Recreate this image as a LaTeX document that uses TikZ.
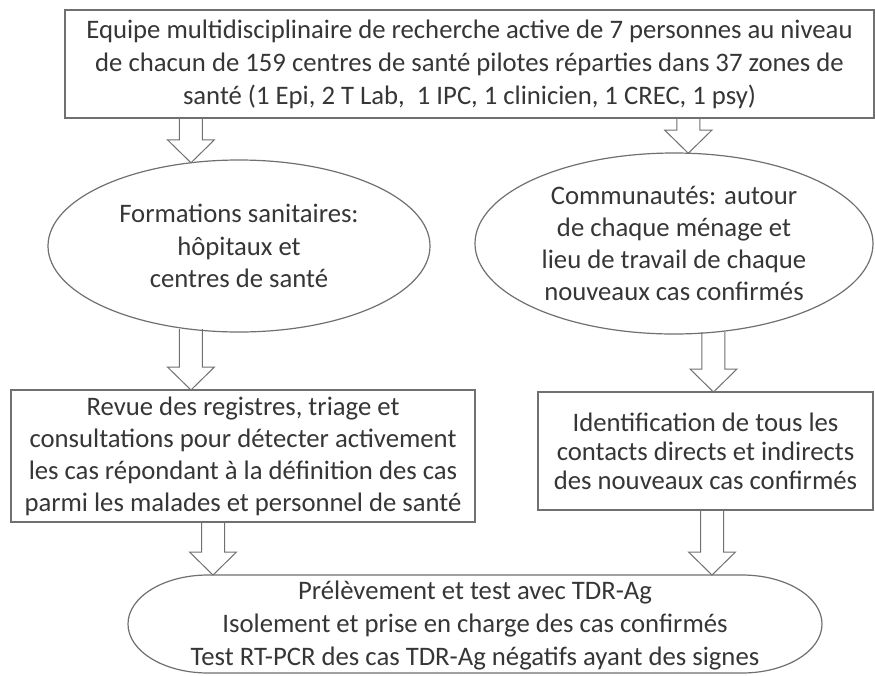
\documentclass[tikz,border=0pt]{standalone}
\usepackage{fontspec}
\setmainfont{Carlito}
\usetikzlibrary{shapes.geometric,calc}
\definecolor{txt}{HTML}{363636}
\definecolor{ln}{HTML}{707070}
\newcommand\blockarrow[2]{%
  \draw[barrow] let \p1=#1, \p2=#2 in
    (\x1-11.5pt,\y1) -- (\x1-11.5pt,\y2+23pt) -- (\x1-23.5pt,\y2+23pt) --
    (\x1,\y2) -- (\x1+23.5pt,\y2+23pt) -- (\x1+11.5pt,\y2+23pt) -- (\x1+11.5pt,\y1);}
\begin{document}
\begin{tikzpicture}[x=1pt,y=-1pt,
  every node/.style={text=txt, align=center, inner sep=0pt, outer sep=0pt},
  fsize/.style={font=\fontsize{26.7}{#1}\selectfont},
  boxnode/.style={draw=ln, line width=1.3pt, rectangle},
  ellnode/.style={draw=ln, line width=1.2pt, ellipse},
  ellline/.style={draw=ln, line width=1.2pt},
  barrow/.style={draw=ln, line width=1pt, line join=miter}]
\useasboundingbox (0,0) rectangle (875,675);
\fill[white] (0,0) rectangle (875,675);

\node[boxnode, fsize=33, minimum width=809pt, minimum height=108pt] (top) at (469.5,64)
  {Equipe multidisciplinaire de recherche active de 7 personnes au niveau\\
   de chacun de 159 centres de santé pilotes réparties dans 37 zones de\\
   santé (1 Epi, 2 T Lab,\ \ 1 IPC, 1 clinicien, 1 CREC, 1 psy)};

\node[ellnode, fsize=32.5, minimum width=382pt, minimum height=172pt] (ell1) at (239,246)
  {Formations sanitaires:\\hôpitaux et\\centres de santé};

\node[ellnode, fsize=32, minimum width=398pt, minimum height=181pt] (ell2) at (674,243.5)
  {Communautés: autour\\de chaque ménage et\\lieu de travail de chaque\\nouveaux cas confirmés};

\node[boxnode, fsize=32, minimum width=464pt, minimum height=132pt] (box1) at (243,456)
  {Revue des registres, triage et\\consultations pour détecter activement\\
   les cas répondant à la définition des cas\\parmi les malades et personnel de santé};

\node[boxnode, fsize=29, minimum width=335pt, minimum height=118pt] (box2) at (705.5,451)
  {Identification de tous les\\contacts directs et indirects\\des nouveaux cas confirmés};

\node[fsize=33] (ell3) at (475,626)
  {Prélèvement et test avec TDR-Ag\\Isolement et prise en charge des cas confirmés\\
   Test RT-PCR des cas TDR-Ag négatifs ayant des signes};
\coordinate (e3a) at ($(475,624)+(-267,-49)$);
\coordinate (e3b) at ($(475,624)+(267,49)$);
\draw[ellline] (e3a) arc[start angle=90,end angle=270,x radius=80pt,y radius=49pt]
  -- (e3b) arc[start angle=-90,end angle=90,x radius=80pt,y radius=49pt] -- cycle;

\coordinate (l3s) at ($(box1.south)+(-30,0)$);
\coordinate (r3s) at ($(box2.south)+(6.5,0)$);

\blockarrow{(ell1.120 |- top.south)}{(ell1.120)}
\blockarrow{(ell2.81 |- top.south)}{(ell2.81)}
\blockarrow{(ell1.240)}{(ell1.240 |- box1.north)}
\blockarrow{(ell2.294)}{(ell2.294 |- box2.north)}
\blockarrow{(l3s)}{(l3s |- e3a)}
\blockarrow{(r3s)}{(r3s |- e3a)}
\end{tikzpicture}
\end{document}
